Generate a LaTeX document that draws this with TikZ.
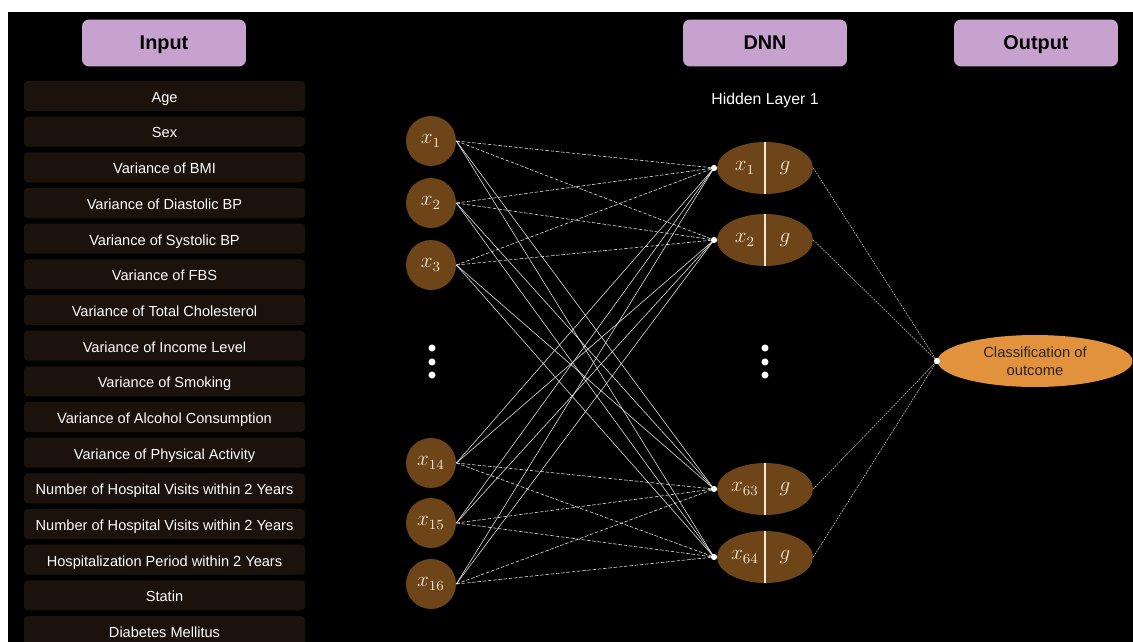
\documentclass[tikz,border=0pt]{standalone}
\usepackage{fontspec}
\setmainfont{Liberation Sans}
\usetikzlibrary{shapes.geometric}
\definecolor{lilac}{HTML}{C8A2CF}
\definecolor{rowbg}{HTML}{1C120C}
\definecolor{neuron}{HTML}{6E4519}
\definecolor{outfill}{HTML}{E2923C}
\definecolor{cream}{HTML}{F3E6CF}
\begin{document}
\begin{tikzpicture}[x=0.02cm,y=-0.02cm,
  capcenter/.style={text height=0.92em,text depth=0.2em},
  header/.style={fill=lilac,rounded corners=4pt,minimum width=3.28cm,minimum height=0.94cm,
    font=\bfseries\fontsize{11.3}{14}\selectfont,text=black,capcenter},
  feature/.style={fill=rowbg,rounded corners=2pt,minimum width=5.62cm,minimum height=0.6cm,
    font=\fontsize{8.3}{9}\selectfont,text=white,inner sep=0pt,capcenter},
  innode/.style={circle,fill=neuron,minimum size=1.0cm,inner sep=0pt,text=cream,font=\large},
  hidnode/.style={ellipse,fill=neuron,minimum width=1.92cm,minimum height=1.04cm,inner sep=0pt},
  near/.style={white,line width=0.35pt,dashed,dash pattern=on 2pt off 1pt,opacity=0.85},
  far/.style={white,line width=0.35pt,opacity=0.85},
  tail/.style={white,line width=0.3pt,dash pattern=on 1pt off 0.6pt,opacity=0.8},
  vdot/.style={circle,fill=white,inner sep=0pt,minimum size=4pt},
  jdot/.style={circle,fill=white,inner sep=0pt,minimum size=3.5pt}]
% page: white edges, black canvas
\fill[white] (0,0) rectangle (1133,642);
\fill[black] (8,12) rectangle (1133,642);
\useasboundingbox (0,0) rectangle (1133,642);

% headers
\node[header] (hin) at (164,43) {Input};
\node[header] (hdnn) at (765,43) {DNN};
\node[header] (hout) at (1036,43) {Output};

% feature list
\foreach \t [count=\i] in {Age,Sex,Variance of BMI,Variance of Diastolic BP,Variance of Systolic BP,
  Variance of FBS,Variance of Total Cholesterol,Variance of Income Level,Variance of Smoking,
  Variance of Alcohol Consumption,Variance of Physical Activity,
  Number of Hospital Visits within 2 Years,Number of Hospital Visits within 2 Years,
  Hospitalization Period within 2 Years,Statin,Diabetes Mellitus}
  \node[feature] (f\i) at (164.5,{96+(\i-1)*35.67}) {\t};

% input neurons
\node[innode] (x1) at (431,141) {$x_{\scriptstyle 1}$};
\node[innode] (x2) at (431,203) {$x_{\scriptstyle 2}$};
\node[innode] (x3) at (431,265) {$x_{\scriptstyle 3}$};
\node[innode] (x14) at (431,463) {$x_{\scriptstyle 14}$};
\node[innode] (x15) at (431,523) {$x_{\scriptstyle 15}$};
\node[innode] (x16) at (431,584) {$x_{\scriptstyle 16}$};
\foreach \y [count=\k] in {348,362,375} \node[vdot] (ldot\k) at (432,\y) {};

% hidden layer
\node[text=white,font=\fontsize{9}{10}\selectfont] (hl) at (765,100) {Hidden Layer 1};
\foreach \n/\y/\s in {h1/168/1,h2/240/2,h63/489/63,h64/557/64}{
  \node[hidnode] (\n) at (765,\y) {};
  \draw[cream,line width=0.6pt] (\n.north) -- (\n.south);
  \node[text=cream,font=\large] (\n l) at (745,\y) {$x_{\scriptstyle \s}$};
  \node[text=cream,font=\large] (\n r) at (785,\y) {$g$};
  \coordinate (\n in) at (714,\y);
}
\foreach \y [count=\k] in {348,362,375} \node[vdot] (hdot\k) at (765,\y) {};

% output
\node[ellipse,fill=outfill,minimum width=3.9cm,minimum height=1.04cm,inner sep=0pt,
  align=center,font=\fontsize{8.4}{10}\selectfont,text=black!85] (out) at (1035,361)
  {Classification of\\outcome};
\coordinate (outin) at (937,361);

% input -> hidden connections
\foreach \a in {x1,x2,x3}{
  \foreach \b in {h1,h2} \draw[near] (\a.east) -- (\b in);
  \foreach \b in {h63,h64} \draw[far] (\a.east) -- (\b in);
}
\foreach \a in {x14,x15,x16}{
  \foreach \b in {h63,h64} \draw[near] (\a.east) -- (\b in);
  \foreach \b in {h1,h2} \draw[far] (\a.east) -- (\b in);
}
\foreach \b in {h1,h2,h63,h64} \node[jdot] at (\b in) {};

% hidden -> output
\foreach \b in {h1,h2,h63,h64} \draw[tail] (\b.east) -- (outin);
\node[jdot] at (outin) {};
\end{tikzpicture}
\end{document}
